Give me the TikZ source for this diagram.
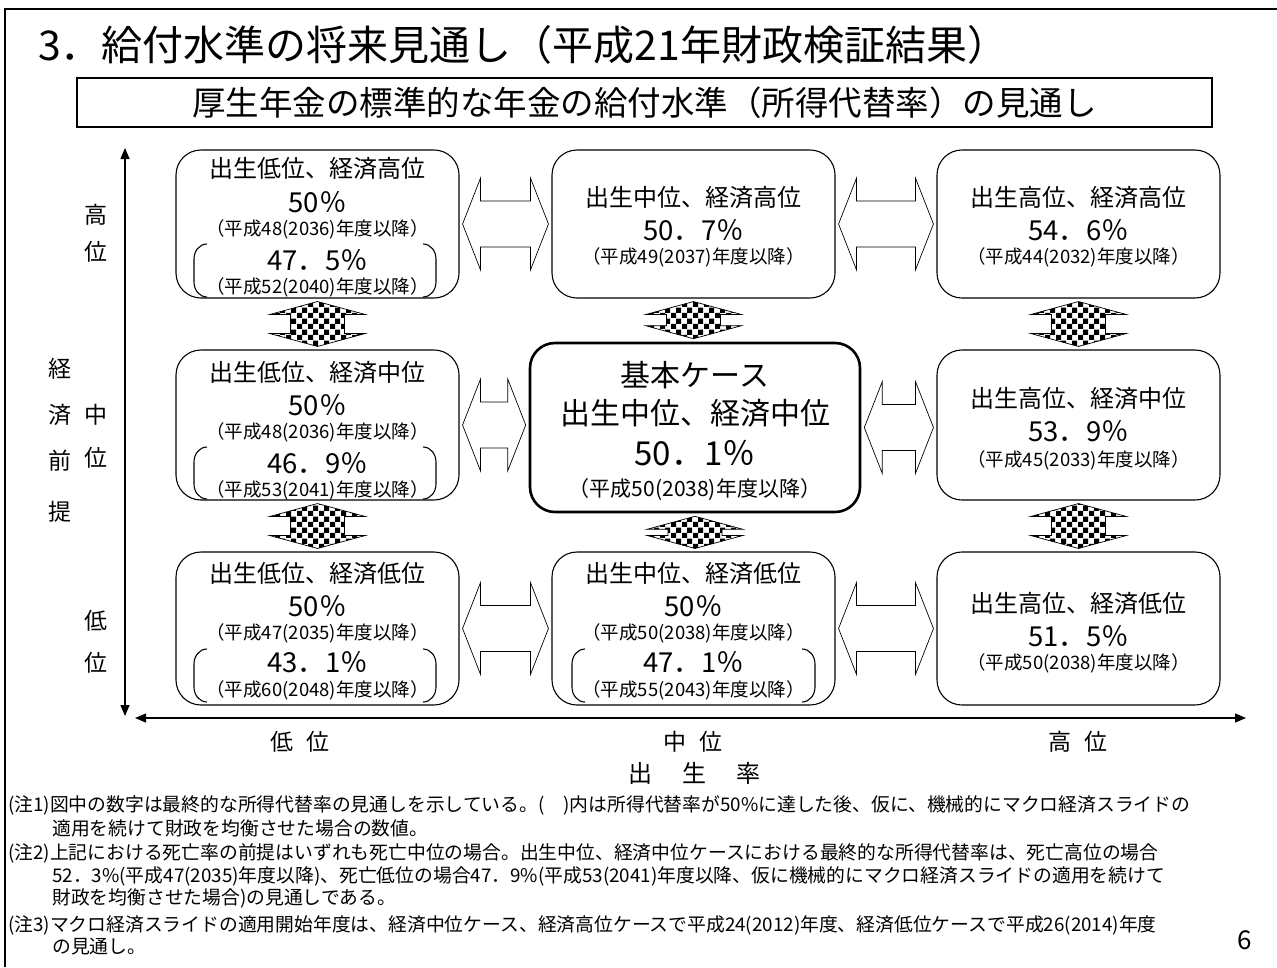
\documentclass[tikz,border=0pt]{standalone}
\usepackage{fontspec}
\setmainfont{Noto Sans CJK JP}
\usetikzlibrary{calc,patterns,arrows.meta}

\pgfdeclarepatternformonly{bigchecker}{\pgfpointorigin}{\pgfqpoint{11pt}{11pt}}{\pgfqpoint{11pt}{11pt}}{%
\pgfpathrectangle{\pgfpointorigin}{\pgfqpoint{5.5pt}{5.5pt}}%
\pgfpathrectangle{\pgfqpoint{5.5pt}{5.5pt}}{\pgfqpoint{5.5pt}{5.5pt}}%
\pgfusepath{fill}}

\newcommand\HArrow[2]{%
\draw[hollow] ($(#1.east)+(3,0)$) -- ++(18,-46) -- ++(0,23)
 -- ($(#1.east -| #2.west)+(-21,-23)$) -- ++(0,-23)
 -- ($(#1.east -| #2.west)+(-3,0)$) -- ++(-18,46) -- ++(0,-23)
 -- ($(#1.east)+(21,23)$) -- ++(0,23) -- cycle;}
\newcommand\VArrow[2]{%
\draw[checker] ($(#1.south)+(0,3)$) -- ++(48,13) -- ++(-21,0)
 -- ($(#1.south |- #2.north)+(27,-16)$) -- ++(21,0)
 -- ($(#1.south |- #2.north)+(0,-3)$) -- ++(-48,-13) -- ++(21,0)
 -- ($(#1.south)+(-27,16)$) -- ++(-21,0) -- cycle;}

\tikzset{
box/.style={draw,rounded corners=25pt,line width=1.1pt,inner sep=0pt,minimum width=283pt},
hollow/.style={draw,fill=white,line width=0.7pt},
checker/.style={draw,line width=0.7pt,preaction={fill=white},pattern=bigchecker},
axis/.style={line width=1.3pt,{Triangle[length=11pt,width=9pt]}-{Triangle[length=11pt,width=9pt]}},
brk/.style={line width=1.1pt},
ttl/.style={font=\fontsize{24}{26}\selectfont,inner sep=0pt},
pct/.style={font=\fontsize{27.5}{29}\selectfont,inner sep=0pt},
yr/.style={font=\fontsize{18.5}{20}\selectfont,inner sep=0pt},
big/.style={font=\fontsize{30}{32}\selectfont,inner sep=0pt},
lab/.style={font=\fontsize{23}{25}\selectfont,inner sep=0pt},
note/.style={font=\fontsize{18.8}{20}\selectfont,inner sep=0pt,anchor=west}
}

\begin{document}
\begin{tikzpicture}[x=1pt,y=-1pt]
\fill[white] (0,0) rectangle (1277,967);
\useasboundingbox (0,0) rectangle (1277,967);
\draw[line width=2pt] (1277,9) -- (5,9) -- (5,967);

\node[font=\fontsize{41}{45}\selectfont,inner sep=0pt,anchor=west] (title) at (38,45) {3．給付水準の将来見通し（平成21年財政検証結果）};
\node[draw,line width=1.1pt,minimum width=1135pt,minimum height=49pt,font=\fontsize{33.5}{36}\selectfont] (sub) at (644.5,102.5) {厚生年金の標準的な年金の給付水準（所得代替率）の見通し};

\coordinate (ytop) at (125,148);
\coordinate (ybot) at (125,716);
\coordinate (xleft) at (135,718);
\coordinate (xright) at (1246,718);
\draw[axis] (ytop) -- (ybot);
\draw[axis] (xleft) -- (xright);

\node[lab] (k1) at (60,369) {経};
\node[lab] (k2) at (60,415) {済};
\node[lab] (k3) at (60,461) {前};
\node[lab] (k4) at (60,512) {提};
\node[lab] (h1) at (96,215) {高};
\node[lab] (h2) at (96,252) {位};
\node[lab] (m1) at (96,415) {中};
\node[lab] (m2) at (96,458) {位};
\node[lab] (l1) at (96,621) {低};
\node[lab] (l2) at (96,663) {位};
\node[lab] (xl) at (300,742) {低\hspace{14pt}位};
\node[lab] (xm) at (693,742) {中\hspace{14pt}位};
\node[lab] (xh) at (1078,742) {高\hspace{14pt}位};
\node[lab,font=\fontsize{24}{26}\selectfont] (xt) at (694,773) {出\hspace{30pt}生\hspace{30pt}率};

\node[box,minimum height=148pt] (b11) at (317.5,224) {};
\node[box,minimum height=148pt] (b21) at (693.5,224) {};
\node[box,minimum height=148pt] (b31) at (1078.5,224) {};
\node[box,minimum height=150pt] (b12) at (317.5,425) {};
\node[box,line width=2.6pt,minimum width=330pt,minimum height=169pt] (cc) at (695,427.5) {};
\node[box,minimum height=150pt] (b32) at (1078.5,425) {};
\node[box,minimum height=153pt] (b13) at (317.5,628.5) {};
\node[box,minimum height=153pt] (b23) at (693.5,628.5) {};
\node[box,minimum height=153pt] (b33) at (1078.5,628.5) {};

\node[ttl] (n11) at (317.5,168) {出生低位、経済高位};
\node[pct] (p11) at (317.5,202) {50％};
\node[yr] (y11) at (317.5,229) {（平成48(2036)年度以降）};
\node[pct] (q11) at (317.5,260) {47．5％};
\node[yr] (z11) at (317.5,287) {（平成52(2040)年度以降）};
\draw[brk] (207,244) to[out=180,in=90] (194,259) -- (194,282) to[out=-90,in=180] (207,297);
\draw[brk] (423,244) to[out=0,in=90] (436,259) -- (436,282) to[out=-90,in=0] (423,297);

\node[ttl] (n21) at (693.5,197) {出生中位、経済高位};
\node[pct] (p21) at (693.5,230) {50．7％};
\node[yr] (y21) at (693.5,257) {（平成49(2037)年度以降）};

\node[ttl] (n31) at (1078.5,197) {出生高位、経済高位};
\node[pct] (p31) at (1078.5,230) {54．6％};
\node[yr] (y31) at (1078.5,257) {（平成44(2032)年度以降）};

\node[ttl] (n12) at (317.5,372) {出生低位、経済中位};
\node[pct] (p12) at (317.5,405) {50％};
\node[yr] (y12) at (317.5,432) {（平成48(2036)年度以降）};
\node[pct] (q12) at (317.5,463) {46．9％};
\node[yr] (z12) at (317.5,490) {（平成53(2041)年度以降）};
\draw[brk] (207,447) to[out=180,in=90] (194,462) -- (194,484) to[out=-90,in=180] (207,499);
\draw[brk] (423,447) to[out=0,in=90] (436,462) -- (436,484) to[out=-90,in=0] (423,499);

\node[big] (nc1) at (695,375) {基本ケース};
\node[big] (nc2) at (695,413) {出生中位、経済中位};
\node[big,font=\fontsize{33}{35}\selectfont] (pc) at (695,453) {50．1％};
\node[yr,font=\fontsize{21}{23}\selectfont] (yc) at (695,490) {（平成50(2038)年度以降）};

\node[ttl] (n32) at (1078.5,398) {出生高位、経済中位};
\node[pct] (p32) at (1078.5,431) {53．9％};
\node[yr] (y32) at (1078.5,460) {（平成45(2033)年度以降）};

\node[ttl] (n13) at (317.5,573) {出生低位、経済低位};
\node[pct] (p13) at (317.5,606) {50％};
\node[yr] (y13) at (317.5,633) {（平成47(2035)年度以降）};
\node[pct] (q13) at (317.5,662) {43．1％};
\node[yr] (z13) at (317.5,690) {（平成60(2048)年度以降）};
\draw[brk] (207,649) to[out=180,in=90] (194,664) -- (194,687) to[out=-90,in=180] (207,702);
\draw[brk] (423,649) to[out=0,in=90] (436,664) -- (436,687) to[out=-90,in=0] (423,702);

\node[ttl] (n23) at (693.5,573) {出生中位、経済低位};
\node[pct] (p23) at (693.5,606) {50％};
\node[yr] (y23) at (693.5,633) {（平成50(2038)年度以降）};
\node[pct] (q23) at (693.5,662) {47．1％};
\node[yr] (z23) at (693.5,690) {（平成55(2043)年度以降）};
\draw[brk] (585,649) to[out=180,in=90] (572,664) -- (572,687) to[out=-90,in=180] (585,702);
\draw[brk] (802,649) to[out=0,in=90] (815,664) -- (815,687) to[out=-90,in=0] (802,702);

\node[ttl] (n33) at (1078.5,603) {出生高位、経済低位};
\node[pct] (p33) at (1078.5,636) {51．5％};
\node[yr] (y33) at (1078.5,663) {（平成50(2038)年度以降）};

\HArrow{b11}{b21}
\HArrow{b21}{b31}
\HArrow{b12}{cc}
\HArrow{cc}{b32}
\HArrow{b13}{b23}
\HArrow{b23}{b33}
\VArrow{b11}{b12}
\VArrow{b21}{cc}
\VArrow{b31}{b32}
\VArrow{b12}{b13}
\VArrow{cc}{b23}
\VArrow{b32}{b33}

\node[note] (t1) at (8,805) {(注1)図中の数字は最終的な所得代替率の見通しを示している。(　)内は所得代替率が50\%に達した後、仮に、機械的にマクロ経済スライドの};
\node[note] (t2) at (52,828) {適用を続けて財政を均衡させた場合の数値。};
\node[note] (t3) at (8,853) {(注2)上記における死亡率の前提はいずれも死亡中位の場合。出生中位、経済中位ケースにおける最終的な所得代替率は、死亡高位の場合};
\node[note] (t4) at (52,876) {52．3\%(平成47(2035)年度以降)、死亡低位の場合47．9\%(平成53(2041)年度以降、仮に機械的にマクロ経済スライドの適用を続けて};
\node[note] (t5) at (52,898) {財政を均衡させた場合)の見通しである。};
\node[note] (t6) at (8,925) {(注3)マクロ経済スライドの適用開始年度は、経済中位ケース、経済高位ケースで平成24(2012)年度、経済低位ケースで平成26(2014)年度};
\node[note] (t7) at (52,947) {の見通し。};
\node[font=\fontsize{26}{28}\selectfont,inner sep=0pt] (pg) at (1245,940) {6};
\end{tikzpicture}
\end{document}
